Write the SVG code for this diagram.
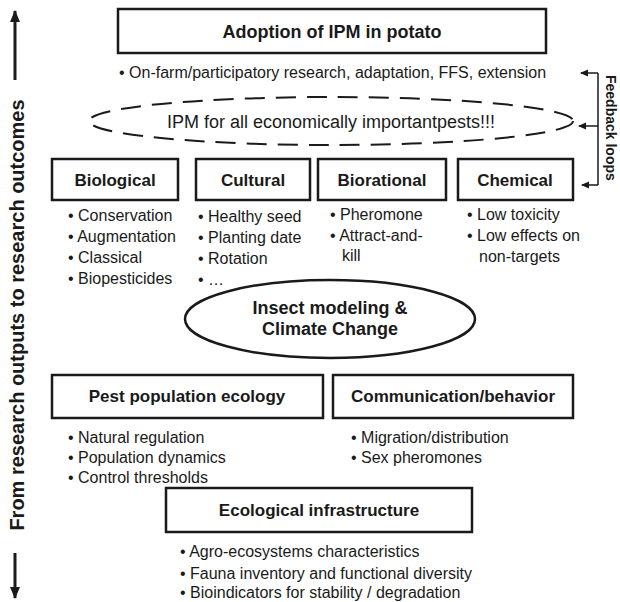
<svg xmlns="http://www.w3.org/2000/svg" width="620" height="602" viewBox="0 0 620 602">
<style>
text{font-family:"Liberation Sans",Arial,sans-serif;fill:#1a1a1a}
.h{font-weight:bold;font-size:17px;text-anchor:middle}
.t{font-size:16px}
.box{fill:#fff;stroke:#1a1a1a;stroke-width:2.5}
.ln{stroke:#1a1a1a;stroke-width:1.5;fill:none}
.lb{stroke:#1a1a1a;stroke-width:3;fill:none}
</style>
<defs>
<marker id="ah" markerWidth="8" markerHeight="8" refX="7" refY="4" orient="auto" markerUnits="userSpaceOnUse"><path d="M0,0.5 L8,4 L0,7.5 Z" fill="#1a1a1a"/></marker>
<marker id="ab" markerWidth="12" markerHeight="12" refX="11" refY="6" orient="auto" markerUnits="userSpaceOnUse"><path d="M0,1 L12,6 L0,11 Z" fill="#1a1a1a"/></marker>
</defs>
<g id="connectors">
<line class="lb" x1="15" y1="80" x2="15" y2="11" marker-end="url(#ab)"/>
<line class="lb" x1="15" y1="553" x2="15" y2="598" marker-end="url(#ab)"/>
<polyline class="ln" points="598,73 598,185"/>
<line class="ln" x1="598" y1="73" x2="581" y2="73" marker-end="url(#ah)"/>
<line class="ln" x1="598" y1="126" x2="579" y2="126" marker-end="url(#ah)"/>
<line class="ln" x1="598" y1="185" x2="582" y2="185" marker-end="url(#ah)"/>
</g>
<g id="side-label"><text transform="translate(24,315) rotate(-90)" style="font-weight:bold;font-size:20px;text-anchor:middle">From research outputs to research outcomes</text></g>
<g id="feedback-label"><text transform="translate(606,75) rotate(90)" style="font-weight:bold;font-size:14px">Feedback loops</text></g>
<g id="adoption">
<rect class="box" x="118" y="9" width="428" height="44"/>
<text class="h" x="332" y="38" style="font-size:18px">Adoption of IPM in potato</text>
</g>
<g id="onfarm"><text class="t" x="119" y="78">• On-farm/participatory research, adaptation, FFS, extension</text></g>
<g id="ipm-all">
<ellipse cx="331" cy="121" rx="242" ry="24" fill="none" stroke="#1a1a1a" stroke-width="2" stroke-dasharray="20 11"/>
<text x="331" y="128" style="font-size:18px;text-anchor:middle">IPM for all economically importantpests!!!</text>
</g>
<g id="biological">
<rect class="box" x="52" y="159" width="126" height="41"/>
<text class="h" x="115" y="186">Biological</text>
<text class="t" x="68" y="221">• Conservation</text>
<text class="t" x="68" y="242">• Augmentation</text>
<text class="t" x="68" y="263">• Classical</text>
<text class="t" x="68" y="284">• Biopesticides</text>
</g>
<g id="cultural">
<rect class="box" x="196" y="159" width="114" height="41"/>
<text class="h" x="253" y="186">Cultural</text>
<text class="t" x="198" y="222">• Healthy seed</text>
<text class="t" x="198" y="243">• Planting date</text>
<text class="t" x="198" y="264">• Rotation</text>
<text class="t" x="198" y="285">• …</text>
</g>
<g id="biorational">
<rect class="box" x="318" y="159" width="128" height="41"/>
<text class="h" x="382" y="186">Biorational</text>
<text class="t" x="330" y="220">• Pheromone</text>
<text class="t" x="330" y="241">• Attract-and-</text>
<text class="t" x="342" y="261">kill</text>
</g>
<g id="chemical">
<rect class="box" x="458" y="159" width="115" height="41"/>
<text class="h" x="515" y="186">Chemical</text>
<text class="t" x="467" y="220">• Low toxicity</text>
<text class="t" x="467" y="241">• Low effects on</text>
<text class="t" x="479" y="262">non-targets</text>
</g>
<g id="insect-modeling">
<ellipse cx="330" cy="319" rx="145" ry="39" fill="#fff" stroke="#1a1a1a" stroke-width="2.5"/>
<text class="h" x="330" y="314" style="font-size:18px">Insect modeling &amp;</text>
<text class="h" x="330" y="335" style="font-size:18px">Climate Change</text>
</g>
<g id="pest-ecology">
<rect class="box" x="52" y="375" width="271" height="43"/>
<text class="h" x="187" y="402">Pest population ecology</text>
<text class="t" x="68" y="443">• Natural regulation</text>
<text class="t" x="68" y="463">• Population dynamics</text>
<text class="t" x="68" y="483">• Control thresholds</text>
</g>
<g id="communication">
<rect class="box" x="333" y="375" width="240" height="43"/>
<text class="h" x="453" y="402">Communication/behavior</text>
<text class="t" x="351" y="443">• Migration/distribution</text>
<text class="t" x="351" y="463">• Sex pheromones</text>
</g>
<g id="ecological">
<rect class="box" x="166" y="488" width="306" height="44"/>
<text class="h" x="319" y="516">Ecological infrastructure</text>
<text class="t" x="180" y="557">• Agro-ecosystems characteristics</text>
<text class="t" x="180" y="579">• Fauna inventory and functional diversity</text>
<text class="t" x="180" y="598">• Bioindicators for stability / degradation</text>
</g>
</svg>
